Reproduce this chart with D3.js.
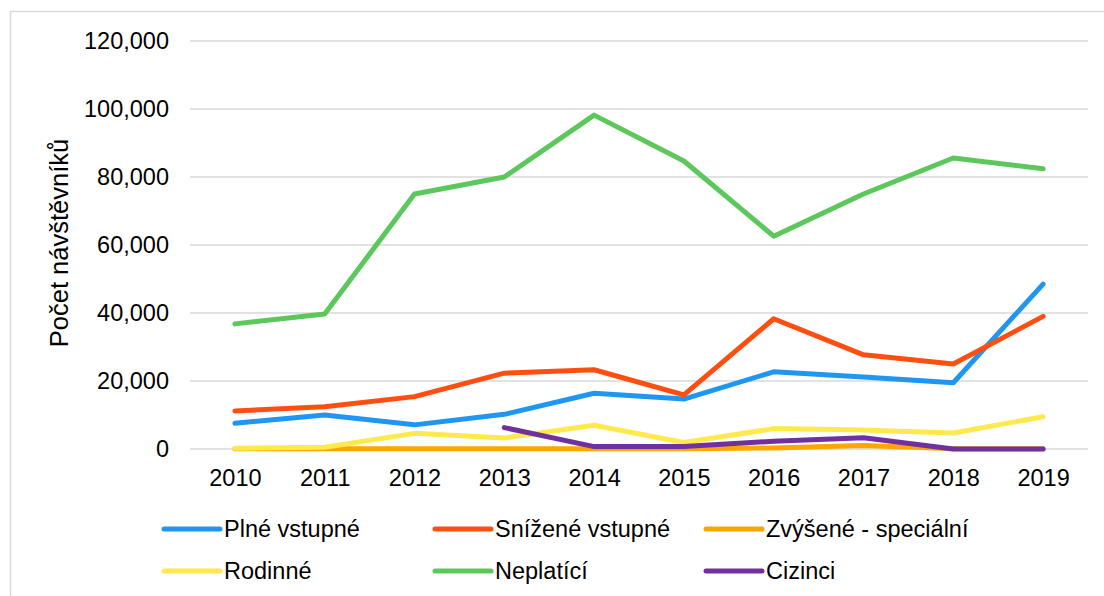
<!DOCTYPE html>
<html lang="cs">
<head>
<meta charset="utf-8">
<script src="https://cdn.jsdelivr.net/npm/d3@7"></script>
<style>
  html, body { margin: 0; padding: 0; background: #fff; }
  svg { display: block; font-family: "Liberation Sans", Arial, sans-serif; }
</style>
</head>
<body>
<svg id="chart" width="1104" height="596"></svg>
<script>
// Roky a počty návštěvníků podle typu vstupného
const years = [2010, 2011, 2012, 2013, 2014, 2015, 2016, 2017, 2018, 2019];
const plneVstupne     = [7600, 10000, 7100, 10200, 16400, 14700, 22700, 21200, 19500, 48500];
const snizeneVstupne  = [11200, 12400, 15400, 22300, 23300, 15900, 38300, 27700, 25000, 39000];
const zvyseneSpecial  = [100, 100, 50, 50, 50, 100, 300, 1000, 100, 100];
const rodinne         = [200, 500, 4600, 3200, 7000, 1900, 6000, 5600, 4700, 9500];
const neplatici       = [36800, 39700, 75000, 80000, 98200, 84700, 62600, 75000, 85600, 82400];
const cizinci         = [null, null, null, 6300, 700, 700, 2300, 3300, 0, 0];
const yTicks = [0, 20000, 40000, 60000, 80000, 100000, 120000];

const series = [
  { name: "Plné vstupné",          values: plneVstupne,    color: "#1f96f2" },
  { name: "Snížené vstupné",       values: snizeneVstupne, color: "#ff4f10" },
  { name: "Zvýšené - speciální",   values: zvyseneSpecial, color: "#ffa500" },
  { name: "Rodinné",               values: rodinne,        color: "#ffe94f" },
  { name: "Neplatící",             values: neplatici,      color: "#5cc85c" },
  { name: "Cizinci",               values: cizinci,        color: "#7030a0" }
];

const svg = d3.select("#chart");
const fontSize = 23.5;

// rámeček grafu
svg.append("rect")
  .attr("x", 10.5).attr("y", 11.5)
  .attr("width", 1110).attr("height", 600)
  .attr("fill", "none").attr("stroke", "#d9d9d9").attr("stroke-width", 1.5);

const plot = { left: 190, right: 1088, top: 41, bottom: 449 };

const x = d3.scalePoint().domain(years).range([plot.left, plot.right]).padding(0.5);
const y = d3.scaleLinear().domain([0, 120000]).range([plot.bottom, plot.top]);

// vodorovné mřížky
svg.append("g").selectAll("line").data(yTicks).join("line")
  .attr("x1", plot.left).attr("x2", plot.right)
  .attr("y1", d => y(d)).attr("y2", d => y(d))
  .attr("stroke", "#d9d9d9").attr("stroke-width", 1.5);

// popisky osy Y
const fmt = d3.format(",");
const yAxis = d3.axisLeft(y).tickValues(yTicks).tickFormat(fmt).tickSize(0).tickPadding(0);
const gy = svg.append("g").attr("transform", `translate(${plot.left - 21},0)`).call(yAxis);
gy.select(".domain").remove();
gy.selectAll("text").attr("font-size", fontSize).attr("fill", "#000")
  .attr("font-family", "'Liberation Sans', Arial, sans-serif");

// popisky osy X
const xAxis = d3.axisBottom(x).tickSize(0).tickPadding(0);
const gx = svg.append("g").attr("transform", `translate(0,${plot.bottom + 20})`).call(xAxis);
gx.select(".domain").remove();
gx.selectAll("text").attr("font-size", fontSize).attr("fill", "#000")
  .attr("font-family", "'Liberation Sans', Arial, sans-serif");

// název osy Y
svg.append("text")
  .attr("transform", `translate(68,243) rotate(-90)`)
  .attr("text-anchor", "middle")
  .attr("font-size", 25.5)
  .attr("fill", "#000")
  .text("Počet návštěvníků");

// čáry řad
const line = d3.line()
  .defined(d => d.v !== null)
  .x(d => x(d.year))
  .y(d => y(d.v));

svg.append("g").selectAll("path").data(series).join("path")
  .attr("d", s => line(years.map((yr, i) => ({ year: yr, v: s.values[i] }))))
  .attr("fill", "none")
  .attr("stroke", s => s.color)
  .attr("stroke-width", 5)
  .attr("stroke-linecap", "round")
  .attr("stroke-linejoin", "round");

// legenda
const legCols = [164, 435, 706];
const legRows = [529, 571];
const leg = svg.append("g").selectAll("g").data(series).join("g")
  .attr("transform", (s, i) => `translate(${legCols[i % 3]},${legRows[Math.floor(i / 3)]})`);
leg.append("line")
  .attr("x1", 0).attr("x2", 56).attr("y1", 0).attr("y2", 0)
  .attr("stroke", s => s.color).attr("stroke-width", 5).attr("stroke-linecap", "round");
leg.append("text")
  .attr("x", 60).attr("y", 0).attr("dy", "0.35em")
  .attr("font-size", fontSize).attr("fill", "#000")
  .text(s => s.name);
</script>
</body>
</html>
